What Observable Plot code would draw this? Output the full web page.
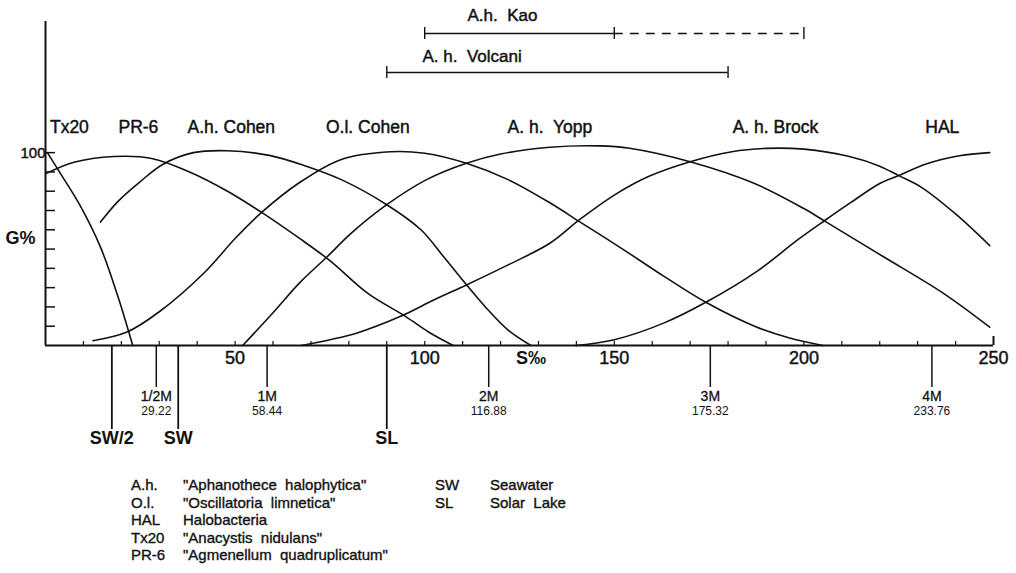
<!DOCTYPE html>
<html>
<head>
<meta charset="utf-8">
<script src="https://cdn.jsdelivr.net/npm/d3@7"></script>
<script src="https://cdn.jsdelivr.net/npm/@observablehq/plot@0.6"></script>
<style>
  body { margin: 0; background: #fff; }
  #wrap { position: relative; width: 1016px; height: 573px; overflow: hidden;
          font-family: "Liberation Sans", Arial, sans-serif; color: #111; }
  #legend { position: absolute; left: 0; top: 0; width: 1016px; height: 573px; pointer-events: none; }
  #legend div { position: absolute; font-size: 15px; white-space: pre; line-height: 1; -webkit-text-stroke: 0.35px #111; }
</style>
</head>
<body>
<div id="wrap"><div id="chart"></div><div id="legend"></div></div>
<script>
// ---------------- data (salinity S‰, growth G%) ----------------
const strains = ["Tx20", "PR-6", "A.h. Cohen", "O.l. Cohen", "A. h.  Yopp", "A. h. Brock", "HAL"];

const tx20S = [0.5, 4, 9, 14.5, 19, 23];
const tx20G = [100, 89, 73, 51, 26, 0];

const pr6S = [0, 7.5, 18, 28, 38, 48, 57, 67, 75, 85, 95, 101, 107.5];
const pr6G = [89, 95, 98, 97, 90, 80, 69, 55.5, 44, 27, 15, 7, 0];

const ahCohenS = [14.5, 19, 25, 31, 39, 48, 59, 68, 78, 90, 99, 105, 111, 116, 122, 128];
const ahCohenG = [64, 74.5, 85, 94, 100, 101, 98.6, 93.5, 86, 73, 60, 46, 31.5, 20, 8, 0];

const olCohenS = [12.5, 21.5, 30, 42, 50, 57, 67, 78, 91, 100, 111, 122, 133, 141, 152.5, 163, 174.5, 187, 196, 205];
const olCohenG = [2.5, 7, 17.5, 38, 55.5, 69, 84.5, 96.5, 100.5, 99.7, 94.5, 86, 74, 64, 49.6, 36, 22, 10, 4, 0];

const ahYoppS = [52, 60, 67, 74, 80.5, 90, 100.5, 111, 120, 133, 146, 154, 170, 187, 200, 205.5, 221, 237, 249];
const ahYoppG = [0, 17, 32.5, 45.5, 58, 73, 86, 94.5, 99.3, 102.8, 103.5, 102.3, 95.3, 84, 71, 64.5, 46, 26.8, 9.5];

const ahBrockS = [67.5, 75, 82, 93.5, 102.5, 111, 122, 133, 141, 150, 159, 170, 181, 190, 200, 212, 220, 225, 231, 240, 249];
const ahBrockG = [0, 3, 6.4, 15, 23.7, 31.4, 41.8, 53, 65.5, 78, 87.6, 95.3, 100.5, 102.2, 101.8, 98, 93, 88.1, 82, 68.2, 51.8];

const halS = [140, 150, 163, 174.5, 188, 198.5, 205.5, 212.5, 220, 225, 232, 241, 249];
const halG = [0, 3, 11.6, 22.8, 39, 55, 64.8, 74.3, 84, 88.1, 94, 98.4, 100];

const curveS = [tx20S, pr6S, ahCohenS, olCohenS, ahYoppS, ahBrockS, halS];
const curveG = [tx20G, pr6G, ahCohenG, olCohenG, ahYoppG, ahBrockG, halG];

// salinity where each strain name is written above the curves
const strainLabelS = [6.3, 24.5, 49, 85, 133, 192.5, 236.5];

// x axis
const sTicks = [10, 20, 30, 40, 50, 60, 70, 80, 90, 100, 110, 120, 130, 140, 150, 160, 170, 180, 190, 200, 210, 220, 230, 240];
const sLabels = [50, 100, 150, 200, 250];
const sUnit = "S‰";
const sUnitAt = 128;
// y axis
const gTicks = [10, 20, 30, 40, 50, 60, 70, 80, 90, 100];
const gLabel = "G%";

// molar NaCl reference marks
const molarNames = ["1/2M", "1M", "2M", "3M", "4M"];
const molarS = [29.22, 58.44, 116.88, 175.32, 233.76];
const molarText = ["29.22", "58.44", "116.88", "175.32", "233.76"];
// waters
const waterNames = ["SW/2", "SW", "SL"];
const waterS = [17.5, 35, 90];

// reported ranges (top)
const rangeNames = ["A.h.  Kao", "A. h.  Volcani"];
const rangeFrom = [100, 90];
const rangeTo = [150, 180];
const rangeDashedFrom = [150, null];
const rangeDashedTo = [200, null];

// key
const keyAbbr = ["A.h.", "O.l.", "HAL", "Tx20", "PR-6"];
const keyName = ["\"Aphanothece  halophytica\"", "\"Oscillatoria  limnetica\"", "Halobacteria", "\"Anacystis  nidulans\"", "\"Agmenellum  quadruplicatum\""];
const key2Abbr = ["SW", "SL"];
const key2Name = ["Seawater", "Solar  Lake"];

// ---------------- layout ----------------
const W = 1016, H = 573;
const mL = 45, mR = 23, mT = 21, axisY = 345;
const sMax = 250, gMax = 168;
const kx = (W - mR - mL) / sMax;          // px per ‰
const ky = (axisY - mT) / gMax;           // px per %
const gAtPx = py => (axisY - py) / ky;    // screen row -> G value

const curveRows = [];
strains.forEach((name, i) => curveS[i].forEach((s, j) => curveRows.push({strain: name, s, g: curveG[i][j]})));

const strainLabels = strains.map((name, i) => ({name, s: strainLabelS[i]}));
const molar = molarNames.map((name, i) => ({name, s: molarS[i], t: molarText[i]}));
const waters = waterNames.map((name, i) => ({name, s: waterS[i]}));

const rangeRowPx = [33, 72];
const rangeLabelPx = [15, 56];
const rangeLabelS = [120.5, 112.5];
const ranges = rangeNames.map((name, i) => ({
  name, from: rangeFrom[i], to: rangeTo[i], dfrom: rangeDashedFrom[i], dto: rangeDashedTo[i],
  g: gAtPx(rangeRowPx[i]), lg: gAtPx(rangeLabelPx[i]), ls: rangeLabelS[i]
}));
const rangeEnds = ranges.flatMap(r => [r.from, r.to].concat(r.dto != null ? [r.dto] : []).map(s => ({s, g: r.g})));
const dashed = ranges.filter(r => r.dfrom != null);

const font = "Liberation Sans, Arial, sans-serif";
const ink = "#111";
const txt = {fill: ink, stroke: ink, strokeWidth: 0.45};

const chart = Plot.plot({
  width: W, height: H,
  marginLeft: mL, marginRight: mR, marginTop: mT, marginBottom: H - axisY,
  x: {domain: [0, sMax], axis: null},
  y: {domain: [0, gMax], axis: null},
  style: {fontFamily: font, background: "#fff", color: ink, overflow: "visible"},
  marks: [
    // axes
    Plot.ruleY([0], {x1: 0, x2: sMax, stroke: ink, strokeWidth: 2}),
    Plot.ruleX([0], {y1: 0, y2: gMax, stroke: ink, strokeWidth: 2}),
    Plot.ruleY(gTicks, {y: d => d, x1: 0, x2: 10 / kx, stroke: ink, strokeWidth: 1.5}),
    Plot.ruleX(sTicks, {x: d => d, y1: 0, y2: 4 / ky, stroke: ink, strokeWidth: 1.2}),
    Plot.ruleX([sMax], {x: d => d, y1: 0, y2: 9 / ky, stroke: ink, strokeWidth: 2}),
    Plot.text([100], {x: 0, y: d => d, dx: 0, dy: 1, text: d => String(d), textAnchor: "end", fontSize: 15, ...txt}),
    Plot.text([gLabel], {x: 0, y: gAtPx(238), dx: -25, text: d => d, fontSize: 18, fontWeight: "bold", fill: ink}),
    Plot.text(sLabels, {x: d => d, y: 0, dy: 13, text: d => String(d), fontSize: 18, ...txt}),
    Plot.text([sUnit], {x: sUnitAt, y: 0, dy: 13, text: d => d, fontSize: 18, fontWeight: "bold", fill: ink}),

    // molar and water reference marks
    Plot.ruleX(molar, {x: "s", y1: 0, y2: -42 / ky, stroke: ink, strokeWidth: 1.5}),
    Plot.text(molar, {x: "s", y: 0, dy: 51, text: "name", fontSize: 14, ...txt, strokeWidth: 0.3}),
    Plot.text(molar, {x: "s", y: 0, dy: 66, text: "t", fontSize: 12, fill: ink}),
    Plot.ruleX(waters, {x: "s", y1: 0, y2: -84 / ky, stroke: ink, strokeWidth: 1.8}),
    Plot.text(waters, {x: "s", y: 0, dy: 93, text: "name", fontSize: 18, fontWeight: "bold", fill: ink}),

    // growth curves
    Plot.line(curveRows, {x: "s", y: "g", z: "strain", curve: "catmull-rom", stroke: ink, strokeWidth: 1.6}),
    Plot.text(strainLabels, {x: "s", y: gAtPx(127), text: "name", fontSize: 17.5, ...txt, "white-space": "pre"}),

    // reported tolerance ranges
    Plot.ruleY(ranges, {y: "g", x1: "from", x2: "to", stroke: ink, strokeWidth: 1.4}),
    Plot.ruleY(dashed, {y: "g", x1: "dfrom", x2: "dto", stroke: ink, strokeWidth: 1.4, strokeDasharray: "9,7"}),
    Plot.ruleX(rangeEnds, {x: "s", y1: d => d.g - 6 / ky, y2: d => d.g + 6 / ky, stroke: ink, strokeWidth: 1.4}),
    Plot.text(ranges, {x: "ls", y: "lg", text: "name", fontSize: 17, ...txt})
  ]
});
chart.querySelectorAll("text").forEach(t => t.setAttribute("xml:space", "preserve"));
chart.style.whiteSpace = "pre";
document.getElementById("chart").appendChild(chart);

// key below the chart
const legend = document.getElementById("legend");
const keyRow0 = 485, keyStep = 17.5;
const keyCols = [131, 183, 435, 490];
function put(txt, x, y) {
  const d = document.createElement("div");
  d.textContent = txt;
  d.style.left = x + "px";
  d.style.top = (y - 8) + "px";
  legend.appendChild(d);
}
keyAbbr.forEach((a, i) => { put(a, keyCols[0], keyRow0 + i * keyStep); put(keyName[i], keyCols[1], keyRow0 + i * keyStep); });
key2Abbr.forEach((a, i) => { put(a, keyCols[2], keyRow0 + i * keyStep); put(key2Name[i], keyCols[3], keyRow0 + i * keyStep); });
</script>
</body>
</html>
